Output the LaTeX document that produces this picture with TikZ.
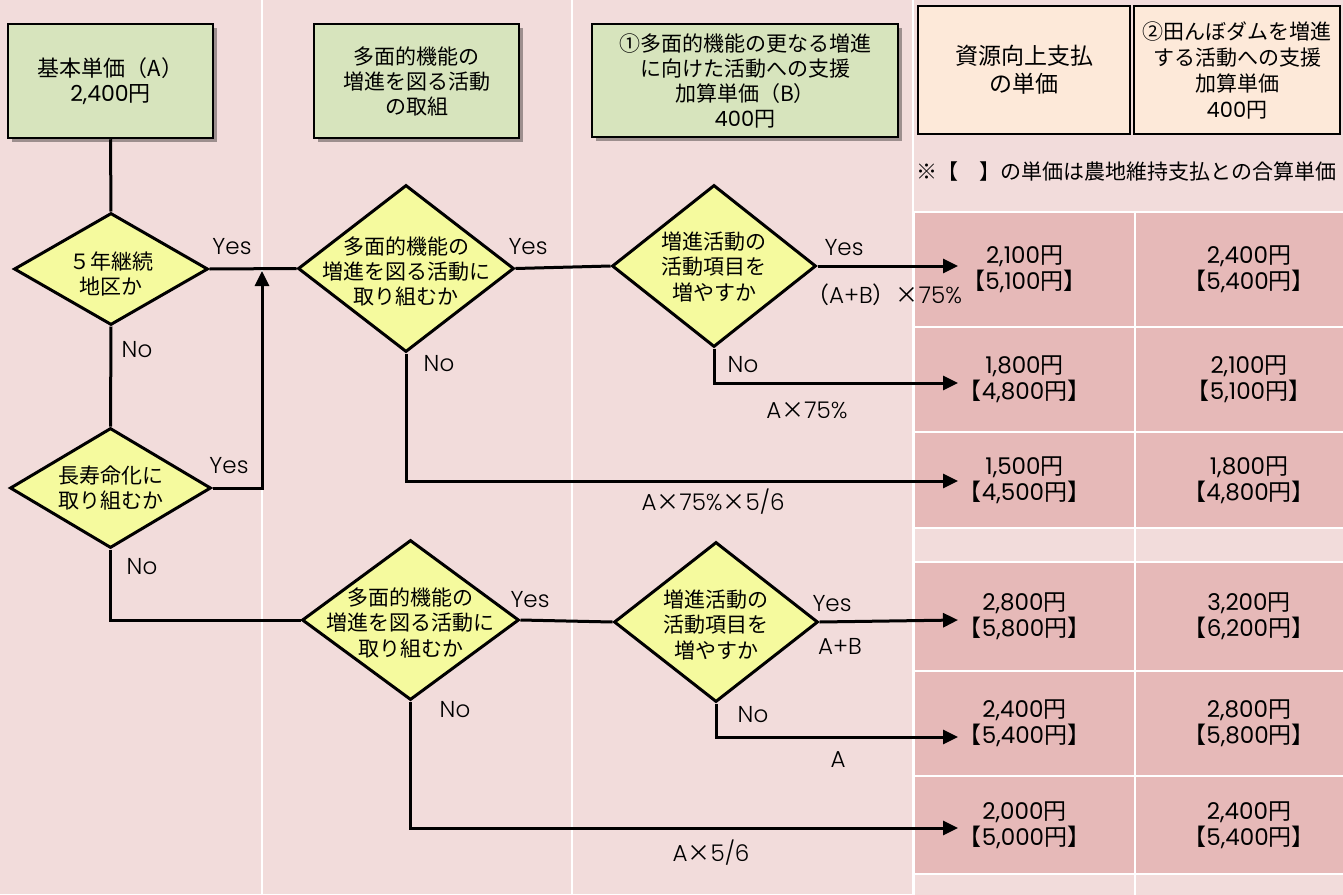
\documentclass[tikz,border=0pt]{standalone}
\usepackage{fontspec}
\setmainfont{Noto Sans CJK JP}
\newfontfamily\lat{Poppins}[UprightFont=*-Light]
\newfontfamily\latr{Poppins}
\usetikzlibrary{shapes.geometric,arrows.meta,shadows}
\definecolor{bgpink}{RGB}{242,220,219}
\definecolor{cellpink}{RGB}{230,185,184}
\definecolor{hdrgreen}{RGB}{215,228,189}
\definecolor{hdrpeach}{RGB}{253,233,217}
\definecolor{dmdyellow}{RGB}{245,250,158}
\newcommand{\dtxt}[2][-11pt]{\makebox[0pt]{\smash{\raisebox{#1}{\begin{tabular}{@{}c@{}}#2\end{tabular}}}}}
\newcommand{\nm}[1]{{\latr #1}}
\newcommand{\tm}{{\normalfont ×}}
\tikzset{
  hdr/.style={draw=black, line width=2.5pt, fill=hdrgreen, align=center, inner sep=0pt,
    font=\fontsize{21}{25}\selectfont,
    drop shadow={shadow xshift=4pt, shadow yshift=-4pt, opacity=0.35, fill=black}},
  pay/.style={draw=black, line width=2.5pt, fill=hdrpeach, align=center, inner sep=0pt},
  dmd/.style={diamond, draw=black, line width=3pt, fill=dmdyellow, inner sep=0pt,
    font=\fontsize{21}{25}\selectfont},
  cell/.style={rectangle, draw=white, line width=2pt, fill=cellpink, inner sep=0pt, align=center,
    font=\fontsize{23}{26}\selectfont},
  gapcell/.style={rectangle, draw=white, line width=2pt, fill=bgpink, inner sep=0pt},
  conn/.style={line width=3pt, line join=miter},
  arr/.style={conn, -{Triangle[length=15pt,width=14pt]}},
  lbl/.style={inner sep=0pt, font=\lat\fontsize{23}{26}\selectfont},
  colsep/.style={white, line width=2pt},
}
\begin{document}
\begin{tikzpicture}[x=1pt,y=-1pt]
\useasboundingbox (0,0) rectangle (1343,894);
\fill[bgpink] (0,0) rectangle (1343,894);
\draw[colsep] (262,0) -- (262,894);
\draw[colsep] (572,0) -- (572,894);
\draw[colsep] (913,0) -- (913,894);

% header boxes
\node[hdr, minimum width=205pt, minimum height=114pt, font=\fontsize{22}{25}\selectfont] (A) at (110.5,81) {基本単価（A）\\\nm{2,400}円};
\node[hdr, minimum width=205pt, minimum height=114pt] (B) at (416.5,81) {多面的機能の\\増進を図る活動\\の取組};
\node[hdr, minimum width=306pt, minimum height=113pt] (C) at (745,80.5) {①多面的機能の更なる増進\\に向けた活動への支援\\加算単価（B）\\\nm{400}円};
\node[pay, minimum width=212pt, minimum height=128pt, font=\fontsize{23}{28}\selectfont] (P1) at (1024,70) {資源向上支払\\の単価};
\node[pay, minimum width=206pt, minimum height=128pt, font=\fontsize{21}{26}\selectfont] (P2) at (1237,70) {②田んぼダムを増進\\する活動への支援\\加算単価\\\nm{400}円};
\node[anchor=west, inner sep=0pt, font=\fontsize{21}{25}\selectfont] (note) at (916,172) {※【　】の単価は農地維持支払との合算単価};

% table
\node[gapcell, minimum width=221pt, minimum height=34pt] (g1) at (1024.5,545) {};
\node[gapcell, minimum width=228pt, minimum height=34pt] (g2) at (1249,545) {};
\node[gapcell, minimum width=221pt, minimum height=30pt] (g3) at (1024.5,889) {};
\node[gapcell, minimum width=228pt, minimum height=30pt] (g4) at (1249,889) {};
\node[cell, minimum width=221pt, minimum height=115pt] (c11) at (1024.5,269.5) {\nm{2,100}円\\【\nm{5,100}円】};
\node[cell, minimum width=228pt, minimum height=115pt] (c12) at (1249,269.5) {\nm{2,400}円\\【\nm{5,400}円】};
\node[cell, minimum width=221pt, minimum height=105pt] (c21) at (1024.5,379.5) {\nm{1,800}円\\【\nm{4,800}円】};
\node[cell, minimum width=228pt, minimum height=105pt] (c22) at (1249,379.5) {\nm{2,100}円\\【\nm{5,100}円】};
\node[cell, minimum width=221pt, minimum height=96pt] (c31) at (1024.5,480) {\nm{1,500}円\\【\nm{4,500}円】};
\node[cell, minimum width=228pt, minimum height=96pt] (c32) at (1249,480) {\nm{1,800}円\\【\nm{4,800}円】};
\node[cell, minimum width=221pt, minimum height=109pt] (c41) at (1024.5,616.5) {\nm{2,800}円\\【\nm{5,800}円】};
\node[cell, minimum width=228pt, minimum height=109pt] (c42) at (1249,616.5) {\nm{3,200}円\\【\nm{6,200}円】};
\node[cell, minimum width=221pt, minimum height=105pt] (c51) at (1024.5,723.5) {\nm{2,400}円\\【\nm{5,400}円】};
\node[cell, minimum width=228pt, minimum height=105pt] (c52) at (1249,723.5) {\nm{2,800}円\\【\nm{5,800}円】};
\node[cell, minimum width=221pt, minimum height=98pt] (c61) at (1024.5,825) {\nm{2,000}円\\【\nm{5,000}円】};
\node[cell, minimum width=228pt, minimum height=98pt] (c62) at (1249,825) {\nm{2,400}円\\【\nm{5,400}円】};

% diamonds
\node[dmd, minimum width=194pt, minimum height=112pt] (D1) at (111,269) {\dtxt[-13pt]{５年継続\\地区か}};
\node[dmd, minimum width=216pt, minimum height=167pt] (D2) at (406,268.5) {\dtxt{多面的機能の\\増進を図る活動に\\取り組むか}};
\node[dmd, minimum width=201pt, minimum height=120pt] (D3) at (110.5,488) {\dtxt[-8pt]{長寿命化に\\取り組むか}};
\node[dmd, minimum width=204pt, minimum height=162pt] (D4) at (714,266) {\dtxt[-9pt]{増進活動の\\活動項目を\\増やすか}};
\node[dmd, minimum width=217pt, minimum height=160pt] (D5) at (410.5,620) {\dtxt{多面的機能の\\増進を図る活動に\\取り組むか}};
\node[dmd, minimum width=204pt, minimum height=160pt] (D6) at (716,622) {\dtxt{増進活動の\\活動項目を\\増やすか}};

% connector end points
\coordinate (j1) at (262,271);
\coordinate (a1) at (958,266);
\coordinate (a2) at (958,383);
\coordinate (a3) at (958,481);
\coordinate (a4) at (958,620);
\coordinate (a5) at (958,737);
\coordinate (a6) at (958,828);

% connectors
\draw[conn] (A.south) -- (D1.north);
\draw[conn] (D1.east) -- (D2.west);
\draw[conn] (D1.south) -- (D3.north);
\draw[arr] (D3.east) -| (j1);
\draw[conn] (D2.east) -- (D4.west);
\draw[arr] (D4.east) -- (a1);
\draw[arr] (D4.south) |- (a2);
\draw[arr] (D2.south) |- (a3);
\draw[conn] (D3.south) |- (D5.west);
\draw[conn] (D5.east) -- (D6.west);
\draw[arr] (D6.east) -- (a4);
\draw[arr] (D6.south) |- (a5);
\draw[arr] (D5.south) |- (a6);

% labels
\node[lbl] (y1) at (232,247) {Yes};
\node[lbl] (n1) at (137,350) {No};
\node[lbl] (y2) at (229,466) {Yes};
\node[lbl] (y3) at (528,247) {Yes};
\node[lbl] (n2) at (439,364) {No};
\node[lbl] (y4) at (844,248) {Yes};
\node[lbl] (f1) at (884,295) {{\normalfont （}A+B{\normalfont ）}\tm 75\%};
\node[lbl] (n3) at (743,365) {No};
\node[lbl] (f2) at (807,410) {A\tm 75\%};
\node[lbl] (f3) at (713,502) {A\tm 75\%\tm 5/6};
\node[lbl] (n4) at (142,567) {No};
\node[lbl] (y5) at (530,600) {Yes};
\node[lbl] (y6) at (832,604) {Yes};
\node[lbl] (f4) at (840,646) {A+B};
\node[lbl] (n5) at (455,710) {No};
\node[lbl] (n6) at (753,715) {No};
\node[lbl] (f5) at (838,760) {A};
\node[lbl] (f6) at (711,853) {A\tm 5/6};
\end{tikzpicture}
\end{document}
